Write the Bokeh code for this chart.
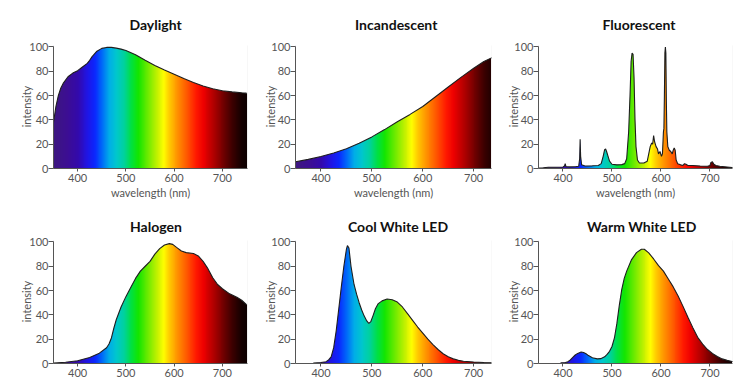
import numpy as np
from bokeh.plotting import figure
from bokeh.layouts import column, row
from bokeh.models import Range1d, FixedTicker
from bokeh.embed import file_html
from bokeh.resources import INLINE

# ---------------- data ----------------
daylight_wl = [350, 355, 360, 365, 370, 380, 390, 400, 410, 420, 425, 430, 440, 450, 460, 470, 480, 490,
               500, 520, 540, 560, 580, 600, 620, 640, 660, 680, 700, 720, 740, 750]
daylight_val = [38, 51, 60, 66, 70, 75.5, 78.5, 80.5, 83.5, 86.5, 89, 92, 96.5, 98.8, 99.6, 99.6, 99, 98.2,
                97, 93.5, 89, 84.8, 81, 77.5, 74, 70.8, 67.8, 65.6, 64, 63, 62.3, 62]

incandescent_wl = [350, 375, 400, 425, 450, 475, 500, 525, 550, 575, 600, 625, 650, 675, 700, 720, 735, 750]
incandescent_val = [5.5, 7.5, 9.8, 12.8, 16.3, 20.8, 26, 32, 38.5, 44.5, 51, 59, 67, 75, 82.5, 88, 91, 92]

fluorescent_wl = [350, 360, 370, 385, 400, 403, 404.5, 406, 415, 425, 432, 434, 435, 436, 438, 445, 460,
                  472, 478, 482, 485, 487, 489, 492, 495, 500, 510, 520, 526, 530, 534, 537, 539, 541,
                  543, 545, 547, 549, 552, 556, 565, 572, 575, 578, 581, 583, 585, 587, 590, 593, 595,
                  598, 601, 603, 605, 606, 607, 608, 609, 610, 611, 612, 614, 617, 620, 623, 625, 627,
                  629, 631, 634, 640, 645, 648, 651, 655, 665, 680, 695, 700, 702, 705, 708, 712, 720,
                  735, 745, 750]
fluorescent_val = [0.3, 0.6, 1.0, 1.0, 1.2, 2.0, 4.0, 1.5, 1.3, 1.5, 1.8, 8, 24, 10, 3, 2.0, 2.2,
                   2.5, 4, 10, 15.5, 16, 14, 10, 6, 3.5, 3, 3.2, 4, 8, 30, 62, 88, 95,
                   94, 75, 40, 18, 7, 4.5, 4.5, 6, 12, 18, 21, 20, 27, 22, 18, 16, 12,
                   14, 10, 12, 30, 33, 60, 95, 100, 95, 55, 30, 18, 15, 14, 12, 15, 17,
                   15, 7, 4, 3, 2.5, 4, 3.5, 2.5, 2.5, 2, 1.8, 2.5, 5, 5.5, 3.5, 2.5, 1.8,
                   1.2, 0.8, 0.6]

halogen_wl = [350, 375, 400, 425, 445, 460, 465, 470, 475, 480, 490, 500, 510, 520, 530, 540, 550, 560,
              570, 580, 590, 597, 605, 615, 625, 640, 650, 660, 670, 680, 690, 700, 715, 730, 740, 750]
halogen_val = [0.3, 1, 2.2, 5, 8.5, 13, 16, 21, 29, 36, 46.5, 55, 62.5, 70, 76, 80, 84, 90,
               94.5, 97.5, 98.6, 98, 95.5, 92.5, 91.2, 90.5, 88.5, 84, 78, 70.5, 65, 61.5, 57.3, 54.5, 52, 48.5]

coolwhite_wl = [385, 400, 410, 415, 420, 425, 430, 435, 440, 445, 450, 452, 455, 459, 465, 470, 475, 480,
                485, 490, 494, 498, 502, 507, 512, 520, 530, 540, 550, 560, 570, 580, 590, 600, 610,
                620, 630, 640, 650, 660, 670, 680, 700, 720, 750]
coolwhite_val = [0.3, 0.8, 1.5, 3, 5.5, 13, 27, 45, 63, 80, 94, 97, 95, 80, 65, 57, 50, 44,
                 39, 35, 33, 34.5, 39, 45, 49, 51.5, 53, 52.5, 50.5, 46.5, 41, 35.5, 30, 25, 20,
                 15.5, 11.5, 8, 5.5, 3.8, 2.6, 1.9, 1.2, 0.8, 0.5]

warmwhite_wl = [395, 405, 410, 415, 420, 425, 430, 437, 442, 447, 452, 460, 470, 477, 485, 490, 495, 500,
                505, 510, 515, 520, 525, 530, 540, 550, 560, 566, 575, 585, 595, 605, 615, 625, 635,
                645, 655, 665, 675, 685, 695, 705, 715, 725, 735, 745, 750]
warmwhite_val = [0.5, 0.8, 1.5, 3, 5, 7, 8.3, 9.5, 9, 8, 6.5, 4.8, 3.8, 4, 5.5, 7.5, 10, 14,
                 21, 33, 48, 61, 70, 76, 85.5, 91.2, 94, 94, 91, 86, 80.5, 76, 69.5, 63, 55.5,
                 47, 38, 29.5, 21.5, 16, 11.5, 8.3, 5.8, 3.8, 2.6, 1.7, 1.5]

titles = ["Daylight", "Incandescent", "Fluorescent", "Halogen", "Cool White LED", "Warm White LED"]
series = [(daylight_wl, daylight_val), (incandescent_wl, incandescent_val),
          (fluorescent_wl, fluorescent_val), (halogen_wl, halogen_val),
          (coolwhite_wl, coolwhite_val), (warmwhite_wl, warmwhite_val)]
x_ticks = [400, 500, 600, 700]
y_ticks = [0, 20, 40, 60, 80, 100]
x_label = "wavelength (nm)"
y_label = "intensity"

# ---------------- style ----------------
FONT = "Lato"
AXIS_COL = "#555555"
# approximate rendered title widths (px) used to shift titles slightly right of centre
TITLE_W = [53, 88, 77, 52, 102, 108]
# colour stops for the spectrum fill (wavelength -> rgb)
STOPS = [(350, (62, 24, 128)), (380, (60, 14, 150)), (400, (52, 10, 172)), (420, (32, 22, 230)),
         (435, (12, 40, 255)), (450, (0, 105, 250)), (465, (0, 175, 232)), (480, (0, 200, 205)),
         (495, (0, 210, 160)), (510, (0, 225, 70)), (525, (20, 230, 0)), (545, (110, 235, 0)),
         (565, (200, 242, 0)), (578, (255, 255, 0)), (590, (255, 200, 0)), (605, (255, 150, 0)),
         (625, (255, 90, 0)), (645, (255, 25, 0)), (660, (238, 0, 0)), (680, (180, 0, 0)),
         (700, (118, 0, 0)), (720, (60, 0, 0)), (740, (20, 0, 0)), (760, (8, 0, 0))]


def spectrum_image(x0, x1, n):
    sw = np.array([s[0] for s in STOPS], dtype=float)
    rgb = np.array([s[1] for s in STOPS], dtype=float)
    centers = np.linspace(x0, x1, n)
    img = np.empty((2, n), dtype=np.uint32)
    view = img.view(dtype=np.uint8).reshape((2, n, 4))
    for c in range(3):
        view[:, :, c] = np.interp(centers, sw, rgb[:, c]).astype(np.uint8)[None, :]
    view[:, :, 3] = 255
    return img


# per-column frame geometry: (x_end, frame_width, min_border_left, min_border_right)
cols = [(752, 194, 53, 3), (735, 196, 45, 2), (746, 194, 45, 10)]
# per-row geometry: (min_border_top, min_border_bottom, title standoff)
rows_geo = [(44, 36, 24), (35, 19, 10)]

figs = []
for i, (title, (wl, val)) in enumerate(zip(titles, series)):
    r, c = divmod(i, 3)
    x_end, fw, mbl, mbr = cols[c]
    mbt, mbb, stand = rows_geo[r]
    p = figure(frame_width=fw, frame_height=124, x_range=Range1d(350, x_end), y_range=Range1d(0, 102),
               output_backend="svg", toolbar_location=None,
               min_border_left=mbl, min_border_right=mbr, min_border_top=mbt, min_border_bottom=mbb)
    p.background_fill_color = "white"
    p.border_fill_color = "white"
    p.outline_line_color = None
    p.xgrid.visible = False
    p.ygrid.visible = False

    img_w = (x_end - 350) - 0.8
    p.image_rgba(image=[spectrum_image(350, 350 + img_w, 400)], x=350, y=0, dw=img_w, dh=101.2)
    mask_x = [340] + list(wl) + [x_end + 20, x_end + 20, 340]
    mask_y = [val[0]] + list(val) + [val[-1], 120, 120]
    p.patch(mask_x, mask_y, fill_color="white", line_color=None)
    p.line(wl, val, line_color="#1e1e1e", line_width=1.1)

    p.title.text = title
    p.title.align = "left"
    p.title.offset = (fw - TITLE_W[i]) / 2 + 5.5
    p.title.standoff = stand
    p.title.text_font = FONT
    p.title.text_font_size = "14px"
    p.title.text_font_style = "bold"
    p.title.text_color = "#111111"

    for ax in (p.xaxis[0], p.yaxis[0]):
        ax.axis_line_color = AXIS_COL
        ax.major_tick_line_color = AXIS_COL
        ax.minor_tick_line_color = None
        ax.major_tick_in = 0
        ax.major_label_text_font = FONT
        ax.major_label_text_font_size = "11px"
        ax.major_label_text_color = "#555555"
        ax.axis_label_text_font = FONT
        ax.axis_label_text_font_size = "11px"
        ax.axis_label_text_font_style = "normal"
        ax.axis_label_text_color = "#555555"
    p.xaxis.ticker = FixedTicker(ticks=x_ticks)
    p.yaxis.ticker = FixedTicker(ticks=y_ticks)
    p.xaxis.bounds = (350, x_end)
    p.yaxis.bounds = (0, 100)
    p.xaxis.major_tick_out = 3
    p.yaxis.major_tick_out = 5
    p.xaxis.major_label_standoff = 2
    p.yaxis.major_label_standoff = 0
    p.yaxis.axis_label = y_label
    p.yaxis.axis_label_standoff = -7 if c == 0 else -9
    if r == 0:
        p.xaxis.axis_label = x_label
        p.xaxis.axis_label_standoff = 1
    figs.append(p)

layout = column(row(*figs[:3], spacing=0), row(*figs[3:], spacing=0), spacing=0)
open("out.html", "w").write(file_html(layout, INLINE))
